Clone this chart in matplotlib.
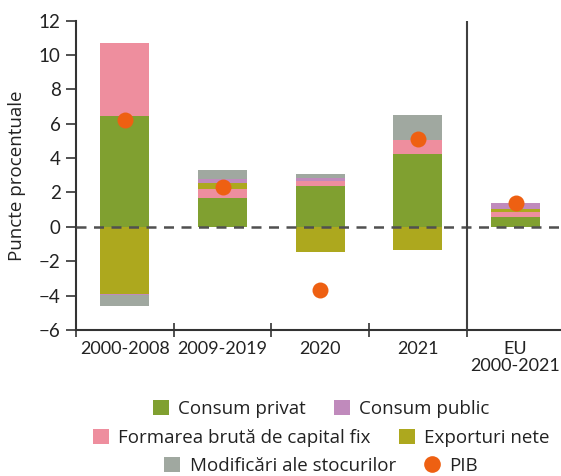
import matplotlib
matplotlib.use("Agg")
import matplotlib.pyplot as plt
from matplotlib.patches import Patch
from matplotlib.lines import Line2D
import numpy as np

plt.rcParams['font.family'] = ['Open Sans', 'DejaVu Sans']

categories = ["2000-2008", "2009-2019", "2020", "2021", "EU\n2000-2021"]
series_names = ["Consum privat", "Formarea brută de capital fix", "Exporturi nete",
                "Consum public", "Modificări ale stocurilor"]
consum_privat = [6.45, 1.70, 2.38, 4.23, 0.58]
formare_bruta = [4.25, 0.50, 0.29, 0.80, 0.29]
exporturi_nete = [-3.90, 0.33, -1.49, -1.37, 0.17]
consum_public = [-0.05, 0.25, 0.19, 0.05, 0.35]
stocuri = [-0.65, 0.52, 0.21, 1.45, 0.00]
pib = [6.2, 2.3, -3.7, 5.1, 1.4]

colors = {
    "Consum privat": "#80A030",
    "Consum public": "#C08ABC",
    "Formarea brută de capital fix": "#EE8E9E",
    "Exporturi nete": "#ADA81E",
    "Modificări ale stocurilor": "#A0A8A0",
}
pib_color = "#EE6012"

series = [consum_privat, formare_bruta, exporturi_nete, consum_public, stocuri]

W, H = 561, 476
fig = plt.figure(figsize=(W / 100, H / 100), dpi=100)
ax = fig.add_axes([76 / W, 1 - 330 / H, 1 - 76 / W, (330 - 20.6) / H])

x = np.arange(len(categories))
pos_bottom = np.zeros(len(categories))
neg_bottom = np.zeros(len(categories))
for name, vals in zip(series_names, series):
    vals = np.array(vals)
    bottoms = np.where(vals >= 0, pos_bottom, neg_bottom)
    ax.bar(x, vals, width=0.5, bottom=bottoms, color=colors[name], zorder=2)
    pos_bottom = pos_bottom + np.where(vals >= 0, vals, 0)
    neg_bottom = neg_bottom + np.where(vals < 0, vals, 0)

ax.plot(x, pib, 'o', color=pib_color, markersize=11.5, zorder=4, markeredgewidth=0)

ax.axhline(0, color="#505050", linestyle=(0, (4, 3)), linewidth=1.8, zorder=3)
ax.axvline(3.5, color="#404040", linewidth=1.5, zorder=3)

ax.set_xlim(-0.5, 4.465)
ax.set_ylim(-6, 12)
ax.set_yticks(np.arange(-6, 13, 2))
ax.set_yticklabels([("\u2212" + str(abs(v))) if v < 0 else str(v) for v in range(-6, 13, 2)],
                   family=['Lato', 'DejaVu Sans'])

ax.set_xticks([-0.5, 0.5, 1.5, 2.5, 3.5])
ax.set_xticklabels([])
ax.set_xticks(x, minor=True)
ax.set_xticklabels(categories, minor=True, linespacing=1.05, family=['Lato', 'DejaVu Sans'])
ax.tick_params(axis='x', which='minor', length=0, pad=8, labelsize=13, colors="#222222")
ax.tick_params(axis='x', which='major', direction='inout', length=10, width=1.2, color="#333333")
ax.tick_params(axis='y', direction='out', length=7, width=1.2, pad=4, labelsize=13.5,
               color="#333333", labelcolor="#222222")

for s in ['top', 'right']:
    ax.spines[s].set_visible(False)
for s in ['left', 'bottom']:
    ax.spines[s].set_color("#333333")
    ax.spines[s].set_linewidth(1.5)

ax.set_ylabel("Puncte procentuale", fontsize=13.5, color="#222222")
ax.yaxis.set_label_coords((26 - 76) / (W - 76), 0.5)

rows = [
    [("Consum privat", "patch"), ("Consum public", "patch")],
    [("Formarea brută de capital fix", "patch"), ("Exporturi nete", "patch")],
    [("Modificări ale stocurilor", "patch"), ("PIB", "dot")],
]
row_y = [409, 438, 466]
for row, yy in zip(rows, row_y):
    handles = []
    labels = []
    for name, kind in row:
        if kind == "patch":
            handles.append(Patch(facecolor=colors[name], edgecolor='none'))
        else:
            handles.append(Line2D([], [], marker='o', linestyle='none', color=pib_color,
                                  markersize=12, markeredgewidth=0))
        labels.append(name)
    fig.legend(handles, labels, loc='center', bbox_to_anchor=(321 / W, 1 - yy / H), ncol=2,
               frameon=False, fontsize=13.5, handlelength=0.85, handleheight=0.85,
               handletextpad=0.5, columnspacing=1.5, borderpad=0, labelcolor="#222222")

fig.savefig("out.png", dpi=100)
